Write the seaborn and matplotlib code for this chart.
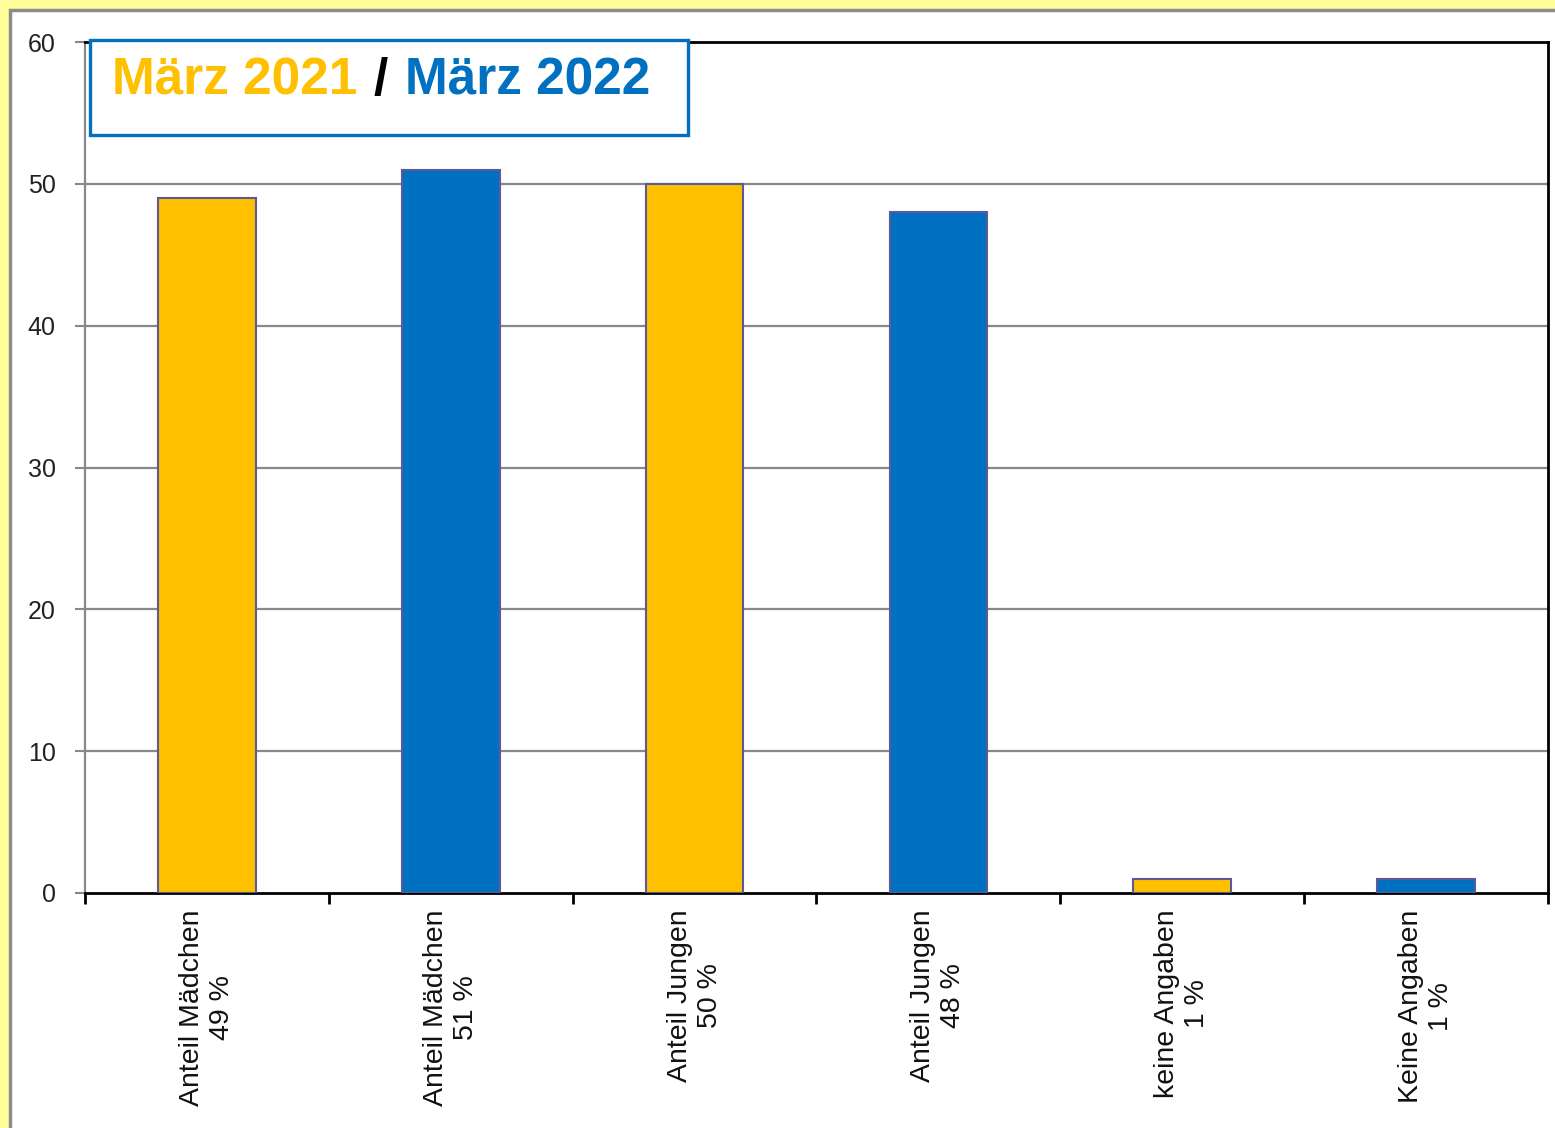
import numpy as np
import pandas as pd
import matplotlib
matplotlib.use("Agg")
import matplotlib.pyplot as plt
import seaborn as sns
from matplotlib.patches import Rectangle
from matplotlib.offsetbox import TextArea, HPacker, AnchoredOffsetbox

######################
# Daten
######################
categories = ["Anteil Mädchen\n49 %", "Anteil Mädchen\n51 %",
              "Anteil Jungen\n50 %", "Anteil Jungen\n48 %",
              "keine Angaben\n1 %", "Keine Angaben\n1 %"]
values = [49, 51, 50, 48, 1, 1]
years = ["März 2021", "März 2022", "März 2021", "März 2022", "März 2021", "März 2022"]
yticks = [0, 10, 20, 30, 40, 50, 60]

gelb = "#FFC000"
blau = "#0070C0"

sns.set_theme(style="white")
plt.rcParams["font.family"] = ["Liberation Sans", "DejaVu Sans"]

df = pd.DataFrame({"kategorie": categories, "wert": values, "jahr": years})

fig = plt.figure(figsize=(15.55, 11.28), dpi=100)
fig.patch.set_facecolor("#FFFF99")

# weisser Hintergrund mit grauem Rahmen
W, H = 1555, 1128
fig.patches.append(Rectangle((10 / W, -0.05), 1.1, 1 - 10 / H + 0.05,
                             transform=fig.transFigure, facecolor="white",
                             edgecolor="#8C8C8C", linewidth=2.5, zorder=-5))

ax = fig.add_axes([85 / W, 1 - 893 / H, 1463 / W, 851 / H])
ax.set_facecolor("white")
ax.set_zorder(1)

sns.barplot(data=df, x="kategorie", y="wert", hue="jahr",
            palette={"März 2021": gelb, "März 2022": blau}, saturation=1,
            dodge=False, width=0.4, edgecolor="#5A5A9A", linewidth=1.5,
            legend=False, ax=ax, zorder=3)

ax.set_xlim(-0.5, 5.5)
ax.set_ylim(0, 60)
ax.set_yticks(yticks)
ax.set_xlabel("")
ax.set_ylabel("")

# Gitterlinien
for y in yticks[1:-1]:
    ax.axhline(y, color="#888888", linewidth=1.6, zorder=1)

# Achsen
for s in ["top", "right", "bottom"]:
    ax.spines[s].set_color("black")
    ax.spines[s].set_linewidth(2)
ax.spines["left"].set_color("#888888")
ax.spines["left"].set_linewidth(1.6)

ax.tick_params(axis="y", which="major", left=True, length=7, width=1.5,
               color="#888888", labelsize=18, pad=14, labelcolor="#222222")
ax.set_xticks(np.arange(len(categories)))
ax.set_xticklabels(categories, rotation=90, fontsize=20.5, va="top",
                   ha="center", multialignment="center", color="#111111")
ax.tick_params(axis="x", which="major", bottom=True, length=0, pad=12)
ax.set_xticks(np.arange(-0.5, len(categories), 1.0), minor=True)
ax.tick_params(axis="x", which="minor", bottom=True, length=8, width=2,
               color="black")

# Titelbox
x0 = (90 - 85) / 1463
x1 = (688 - 85) / 1463
y0 = (893 - 135) / 851
y1 = (893 - 40) / 851
ax.add_patch(Rectangle((x0, y0), x1 - x0, y1 - y0, transform=ax.transAxes,
                       facecolor="white", edgecolor=blau, linewidth=2.4,
                       zorder=10, clip_on=False))

tp = dict(fontsize=37, fontweight="bold", family="Liberation Sans")
teile = [TextArea("März 2021", textprops=dict(color=gelb, **tp)),
         TextArea("/", textprops=dict(color="black", **tp)),
         TextArea("März 2022", textprops=dict(color=blau, **tp))]
box = HPacker(children=teile, align="baseline", pad=0, sep=12)
anch = AnchoredOffsetbox(loc="center left", child=box, pad=0, borderpad=0,
                         frameon=False,
                         bbox_to_anchor=((112 - 85) / 1463, (893 - 81) / 851),
                         bbox_transform=ax.transAxes)
anch.set_zorder(11)
ax.add_artist(anch)

fig.savefig("out.png", dpi=100, facecolor=fig.get_facecolor())
